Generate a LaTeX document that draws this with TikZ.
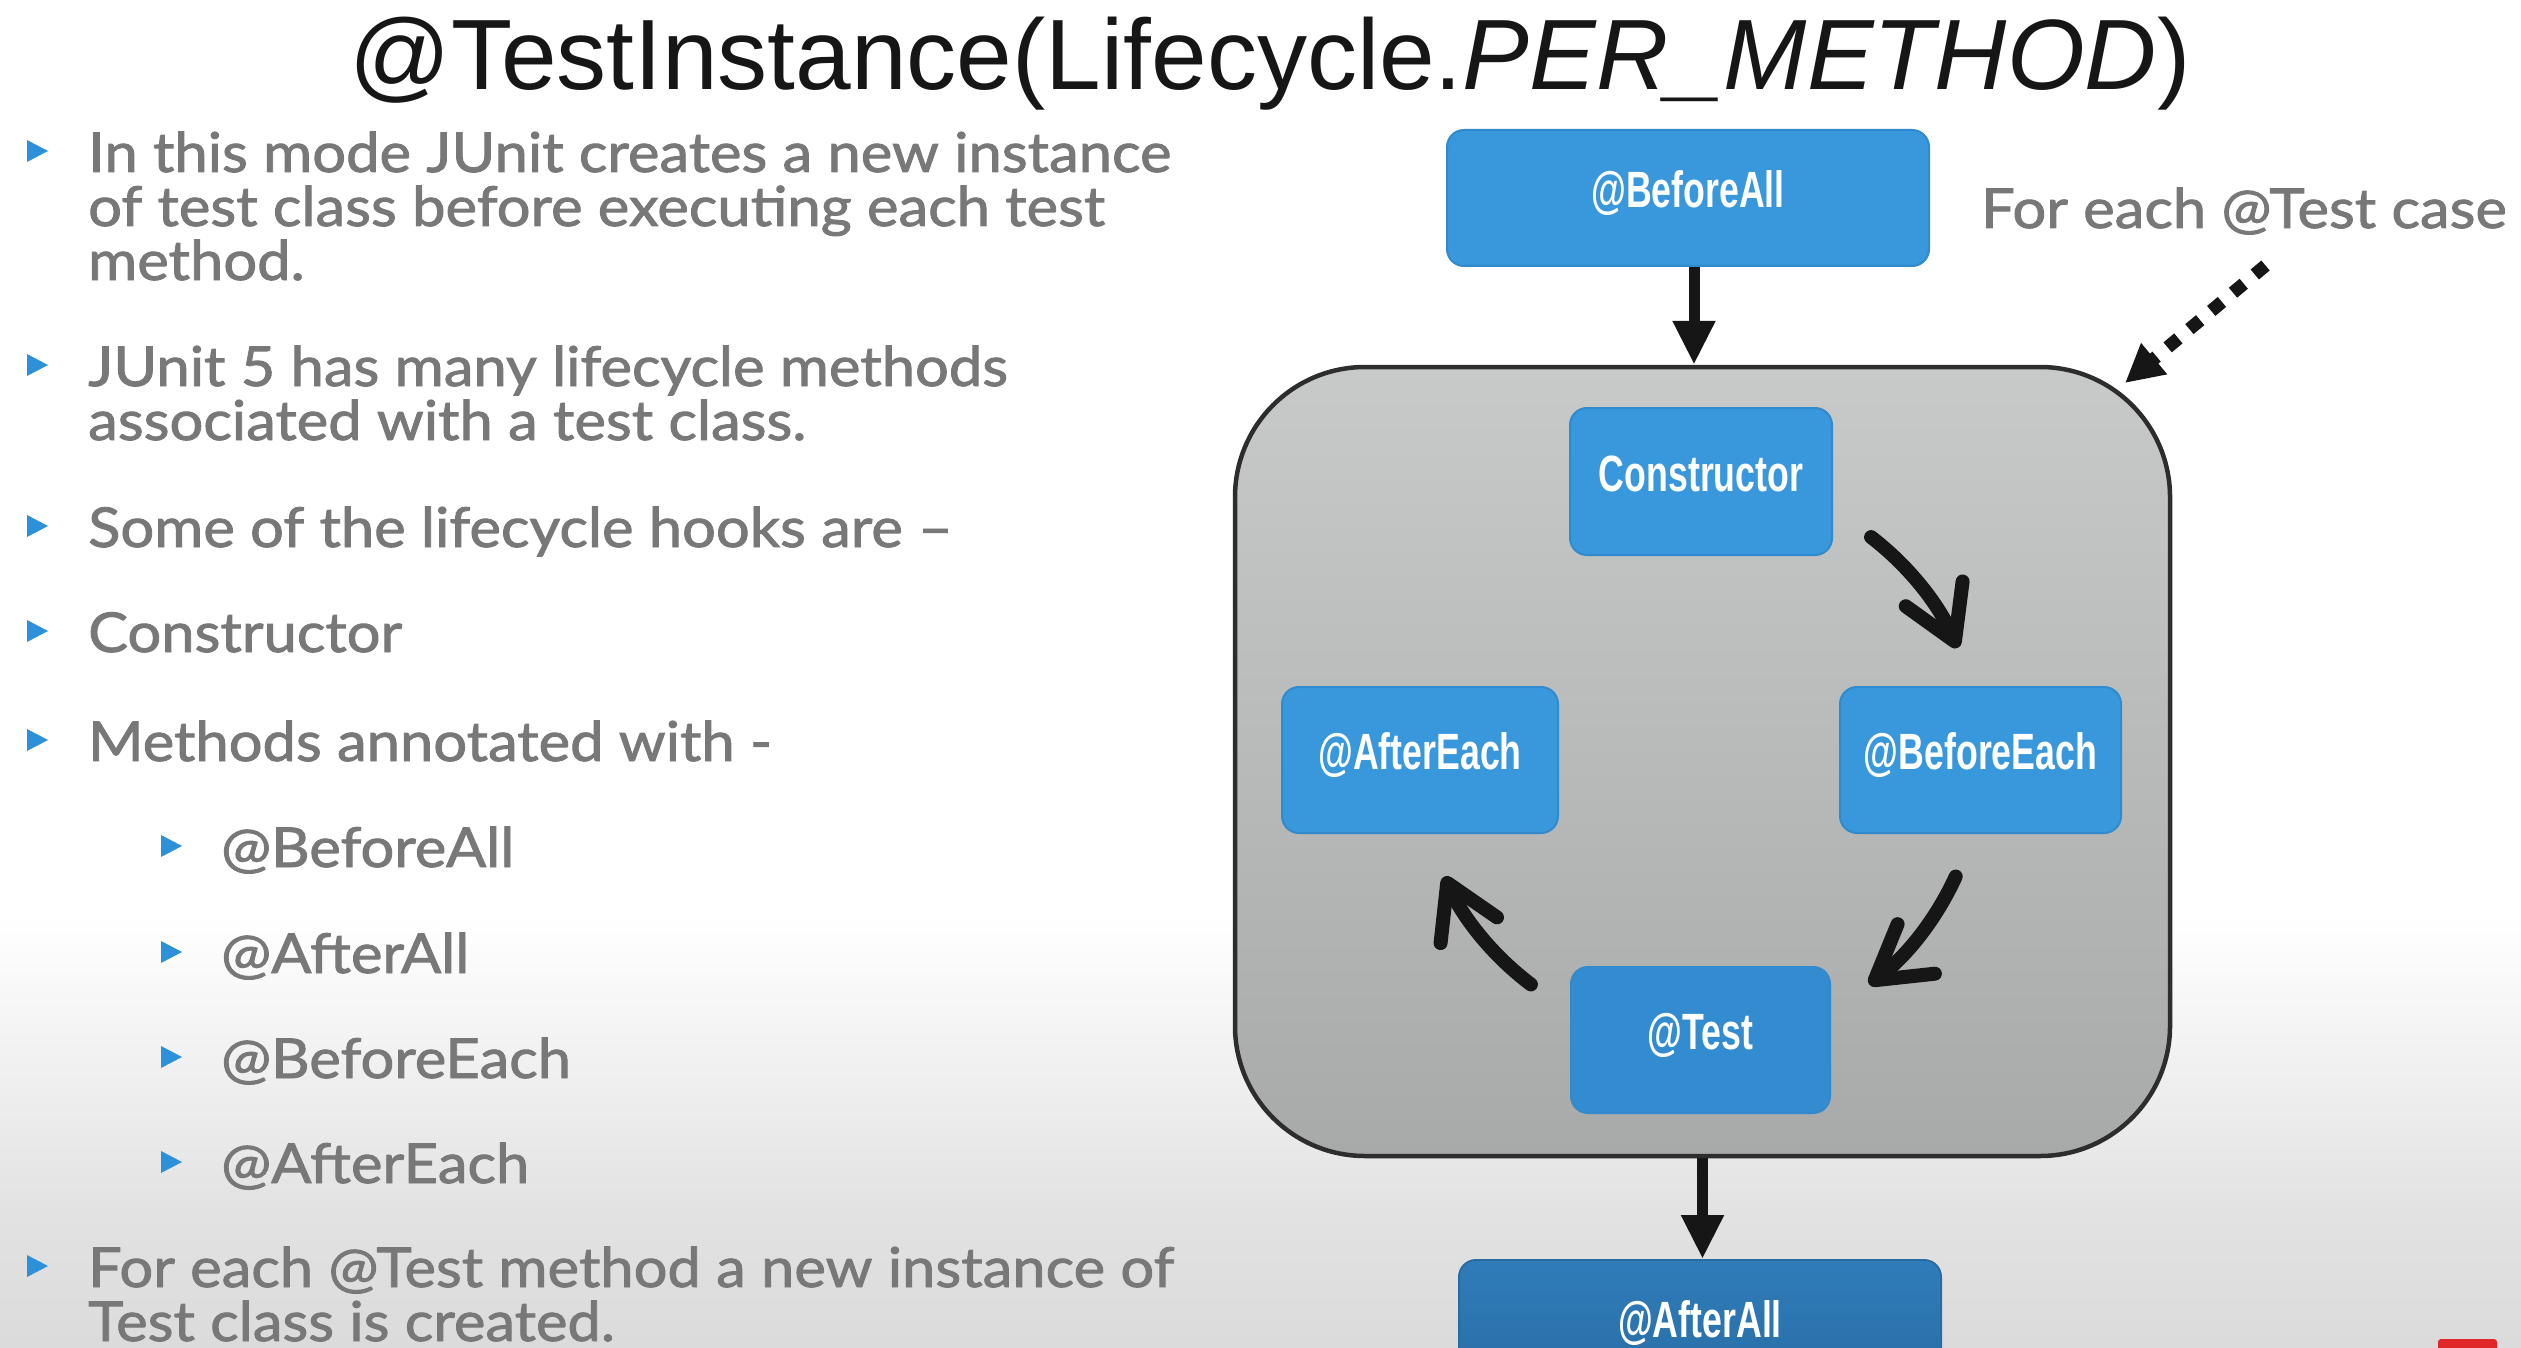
\documentclass[tikz,border=0pt]{standalone}
\usepackage{fontspec}
\setmainfont{Liberation Sans}
\newfontfamily\bodyfam[FakeStretch=1.085, FakeBold=1.6]{Lato}
\newfontfamily\boxfam[FakeStretch=0.70]{Liberation Sans}
\usetikzlibrary{arrows.meta}
\definecolor{txtgray}{RGB}{120,120,120}
\definecolor{bulblue}{RGB}{45,145,218}
\definecolor{boxblue}{RGB}{57,151,220}
\definecolor{boxedge}{RGB}{48,138,205}
\definecolor{testblue}{RGB}{51,140,207}
\definecolor{alltop}{RGB}{47,124,186}
\definecolor{allbot}{RGB}{40,108,162}
\definecolor{looptop}{RGB}{200,201,201}
\definecolor{loopbot}{RGB}{168,169,169}
\definecolor{loopedge}{RGB}{45,45,45}
\definecolor{arrblack}{RGB}{22,22,22}
\definecolor{titleblack}{RGB}{22,22,22}
\definecolor{bgtop}{RGB}{208,208,208}
\definecolor{bgb}{RGB}{196,196,196}
\definecolor{bgone}{RGB}{206,206,206}
\definecolor{bgtwo}{RGB}{226,226,226}
\definecolor{ytred}{RGB}{225,40,40}
\pgfdeclareverticalshading{bgshade}{100bp}{color(0bp)=(bgb); color(16bp)=(bgone); color(30bp)=(bgtwo); color(41bp)=(white); color(91.8bp)=(white); color(100bp)=(bgtop)}
\tikzset{
  bodytext/.style={font=\bodyfam\fontsize{55}{54}\selectfont, text=txtgray, inner sep=0pt, anchor=base west},
  bluebox/.style={rounded corners=17pt, fill=boxblue, draw=boxedge, line width=2pt, text=white,
    font=\boxfam\bfseries\fontsize{51}{51}\selectfont, inner xsep=0pt, inner ysep=0pt},
  loopbox/.style={rounded corners=130pt, top color=looptop, bottom color=loopbot, draw=loopedge,
    line width=4.5pt, inner sep=0pt},
  downarr/.style={draw=arrblack, line width=11pt, -{Triangle[length=44pt, width=40pt]}},
  cycarr/.style={draw=arrblack, line width=14pt, line cap=round,
    -{Straight Barb[length=52pt, width=62pt, round]}},
  dotarr/.style={draw=arrblack, line width=13pt, dash pattern=on 14pt off 14.4pt,
    -{Triangle[length=38pt, width=38pt]}},
  tri/.style={fill=bulblue}
}
\newcommand\tribul[2]{\fill[tri] (#1,#2-32) -- ++(21,11) -- ++(-21,11) -- cycle;}
\begin{document}
\begin{tikzpicture}[x=1pt,y=-1pt]
\useasboundingbox (0,0) rectangle (2521,1348);
\begin{scope}
\clip (0,0) rectangle (2521,1348);
\fill[shading=bgshade] (0,0) rectangle (2521,1348);

% title
\node[font=\fontsize{100}{100}\selectfont, text=titleblack, inner sep=0pt, anchor=base] (title) at (1270,90)
  {@TestInstance(Lifecycle.\textit{PER\_METHOD})};

% bullets
\tribul{27}{172}
\node[bodytext] (l1) at (88,172) {In this mode JUnit creates a new instance};
\node[bodytext] (l2) at (88,226) {of test class before executing each test};
\node[bodytext] (l3) at (88,280) {method.};
\tribul{27}{386}
\node[bodytext] (l4) at (88,386) {JUnit 5 has many lifecycle methods};
\node[bodytext] (l5) at (88,440) {associated with a test class.};
\tribul{27}{547}
\node[bodytext] (l6) at (88,547) {Some of the lifecycle hooks are –};
\tribul{27}{652}
\node[bodytext] (l7) at (88,652) {Constructor};
\tribul{27}{761}
\node[bodytext] (l8) at (88,761) {Methods annotated with -};
\tribul{161}{867}
\node[bodytext] (l9) at (221,867) {@BeforeAll};
\tribul{161}{973}
\node[bodytext] (l10) at (221,973) {@AfterAll};
\tribul{161}{1078}
\node[bodytext] (l11) at (221,1078) {@BeforeEach};
\tribul{161}{1183}
\node[bodytext] (l12) at (221,1183) {@AfterEach};
\tribul{27}{1287}
\node[bodytext] (l13) at (88,1287) {For each @Test method a new instance of};
\node[bodytext] (l14) at (88,1341) {Test class is created.};

% caption
\node[bodytext] (caption) at (1981,228) {For each @Test case};

% diagram
\node[loopbox, minimum width=935pt, minimum height=789pt] (loop) at (1702.5,761.5) {};
\node[bluebox, minimum width=482pt, text height=78pt, text depth=58pt] (bAll) at (1688,198) {@BeforeAll};
\node[bluebox, minimum width=262pt, text height=83pt, text depth=64pt] (cons) at (1701,481.5) {Constructor};
\node[bluebox, minimum width=276pt, text height=82pt, text depth=64pt] (aEach) at (1420,760) {@AfterEach};
\node[bluebox, minimum width=281pt, text height=82pt, text depth=64pt] (bEach) at (1980.5,760) {@BeforeEach};
\node[bluebox, fill=testblue, minimum width=259pt, text height=82pt, text depth=64pt] (test) at (1700.5,1040) {@Test};
\node[bluebox, top color=alltop, bottom color=allbot, draw=allbot, minimum width=482pt, text height=77pt, text depth=63pt] (aAll) at (1700,1330) {@AfterAll};

\draw[downarr] ([xshift=6pt]bAll.south) -- ([xshift=6pt]bAll.south |- loop.north);
\draw[downarr] (loop.south) -- (loop.south |- aAll.north);

\coordinate (cyc) at (1700,760);
\draw[cycarr] ([shift={(-52.5:281)}]cyc) arc[start angle=-52.5, end angle=-23.5, radius=281];
\draw[cycarr] ([shift={(24.5:281)}]cyc) arc[start angle=24.5, end angle=53, radius=281];
\draw[cycarr] ([shift={(127:281)}]cyc) arc[start angle=127, end angle=155.5, radius=281];

\coordinate (dotS) at (2265.5,265.5);
\coordinate (dotE) at (2125,383);
\draw[dotarr] (dotS) -- (dotE);

\fill[ytred, rounded corners=3pt] (2438,1339) rectangle (2497,1356);
\end{scope}
\end{tikzpicture}
\end{document}
